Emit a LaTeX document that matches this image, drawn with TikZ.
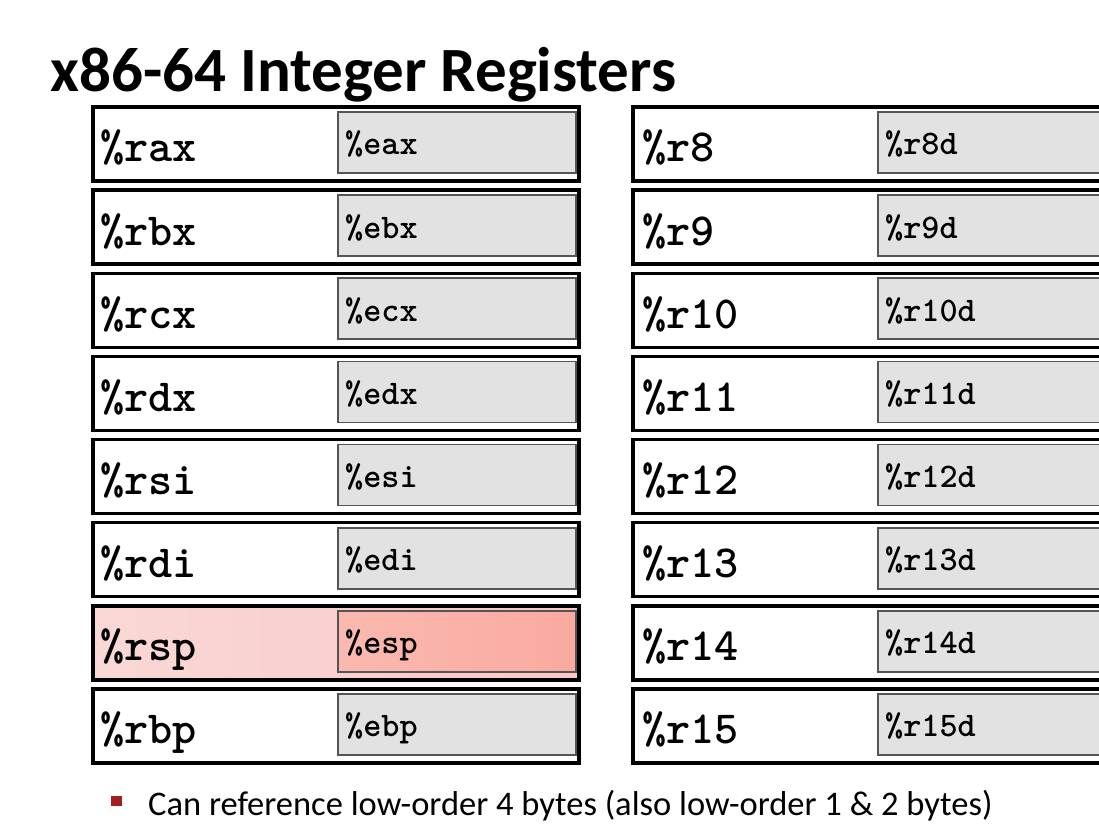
\documentclass[tikz,border=0pt]{standalone}
\usepackage{fontspec}
\setmainfont{Carlito}
\definecolor{subgray}{RGB}{226,226,226}
\definecolor{subedge}{RGB}{85,85,85}
\definecolor{rsplight}{RGB}{249,216,214}
\definecolor{rspmid}{RGB}{250,200,196}
\definecolor{esplight}{RGB}{250,185,176}
\definecolor{espmid}{RGB}{250,170,160}
\definecolor{bulletred}{RGB}{163,31,31}
\begin{document}
\begin{tikzpicture}[x=1pt,y=-1pt]
        \tikzstyle{reg}=[draw=black,line width=3.5pt,minimum height=74pt,inner sep=0pt]
        \tikzstyle{sub}=[draw=subedge,line width=1.6pt,minimum height=61pt,inner sep=0pt]
        \tikzstyle{reg-cold}=[fill=white]
        \tikzstyle{sub-cold}=[fill=subgray]
        \tikzstyle{reg-hot}=[left color=rsplight,right color=rspmid]
        \tikzstyle{sub-hot}=[left color=esplight,right color=espmid]
        \tikzstyle{big}=[font=\ttfamily\bfseries\fontsize{46}{46}\selectfont,inner sep=0pt,anchor=base west]
        \tikzstyle{small}=[font=\ttfamily\bfseries\fontsize{34.5}{34.5}\selectfont,inner sep=0pt,anchor=base west]
        \useasboundingbox (0,0) rectangle (1099,834);
        \clip (0,0) rectangle (1099,834);
        \fill[white] (0,0) rectangle (1099,834);
        \node[font=\bfseries\fontsize{63}{63}\selectfont,anchor=base west,inner sep=0pt] (title) at (50,92) {x86-64 Integer Registers};
        % left column: 64-bit names with their low 32 bits
        \foreach \r/\e/\st [count=\i from 0] in {rax/eax/cold,rbx/ebx/cold,rcx/ecx/cold,rdx/edx/cold,rsi/esi/cold,rdi/edi/cold,rsp/esp/hot,rbp/ebp/cold} {
          \node[reg,reg-\st,minimum width=486pt] (\r) at (336,144+83.14*\i) {};
          \node[sub,sub-\st,minimum width=238pt] (\e) at (457,142.5+83.14*\i) {};
          \node[big] (\r-name) at (100,162+83.14*\i) {\%\r};
          \node[small] (\e-name) at (345,155+83.14*\i) {\%\e};
        }
        % right column: r8 .. r15, cut off by the slide edge
        \foreach \n [count=\i from 0] in {8,...,15} {
          \node[reg,reg-cold,minimum width=527pt] (r\n) at (896.5,144+83.14*\i) {};
          \node[sub,sub-cold,minimum width=280pt] (r\n d) at (1018,142.5+83.14*\i) {};
          \node[big] (r\n-name) at (642,162+83.14*\i) {\%r\n};
          \node[small] (r\n d-name) at (885,155+83.14*\i) {\%r\n d};
        }
        \node[fill=bulletred,minimum size=10.5pt,inner sep=0pt] (bullet) at (116.5,801) {};
        \node[font=\fontsize{34.5}{34.5}\selectfont,anchor=base west,inner sep=0pt] (note) at (148,815) {Can reference low-order 4 bytes (also low-order 1 \& 2 bytes)};
\end{tikzpicture}
\end{document}
